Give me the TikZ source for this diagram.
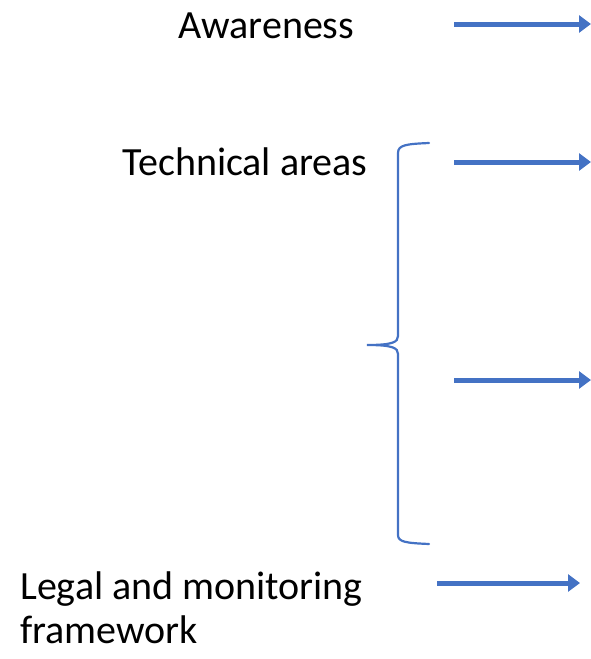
\documentclass[tikz,border=0pt]{standalone}
\usepackage{fontspec}
\setmainfont{Carlito}
\usetikzlibrary{arrows.meta}
\definecolor{officeblue}{HTML}{4472C4}
\tikzset{
  lbl/.style={inner sep=0pt, anchor=base west, font=\fontsize{40}{44}\selectfont},
  bluearrow/.style={draw=officeblue, line width=5pt, -{Triangle[length=12pt,width=17pt]}},
  bracepath/.style={draw=officeblue, line width=2.2pt, line cap=round}
}
\begin{document}
\begin{tikzpicture}[x=1pt,y=-1pt]
\useasboundingbox (0,0) rectangle (590,659);
\node[lbl] (aw) at (178,38) {Awareness};
\node[lbl] (tech) at (122,175) {Technical areas};
\node[lbl] (legal1) at (20,599) {Legal and monitoring};
\node[lbl] (legal2) at (20,643) {framework};
% arrows
\coordinate (a1s) at (454,24); \coordinate (a1e) at (591,24);
\coordinate (a2s) at (454,162); \coordinate (a2e) at (591,162);
\coordinate (a3s) at (454,380); \coordinate (a3e) at (591,380);
\coordinate (a4s) at (437,583); \coordinate (a4e) at (580,583);
\draw[bluearrow] (a1s) -- (a1e);
\draw[bluearrow] (a2s) -- (a2e);
\draw[bluearrow] (a3s) -- (a3e);
\draw[bluearrow] (a4s) -- (a4e);
% brace
\coordinate (btop) at (429,143);
\coordinate (btip) at (367,345);
\coordinate (bbot) at (429,544);
\draw[bracepath] (btop) .. controls (406,144) and (398,145) .. (398,153) -- (398,336)
  .. controls (398,342) and (393,345) .. (btip)
  .. controls (393,345) and (398,348) .. (398,354) -- (398,535)
  .. controls (398,542) and (406,543) .. (bbot);
\end{tikzpicture}
\end{document}
